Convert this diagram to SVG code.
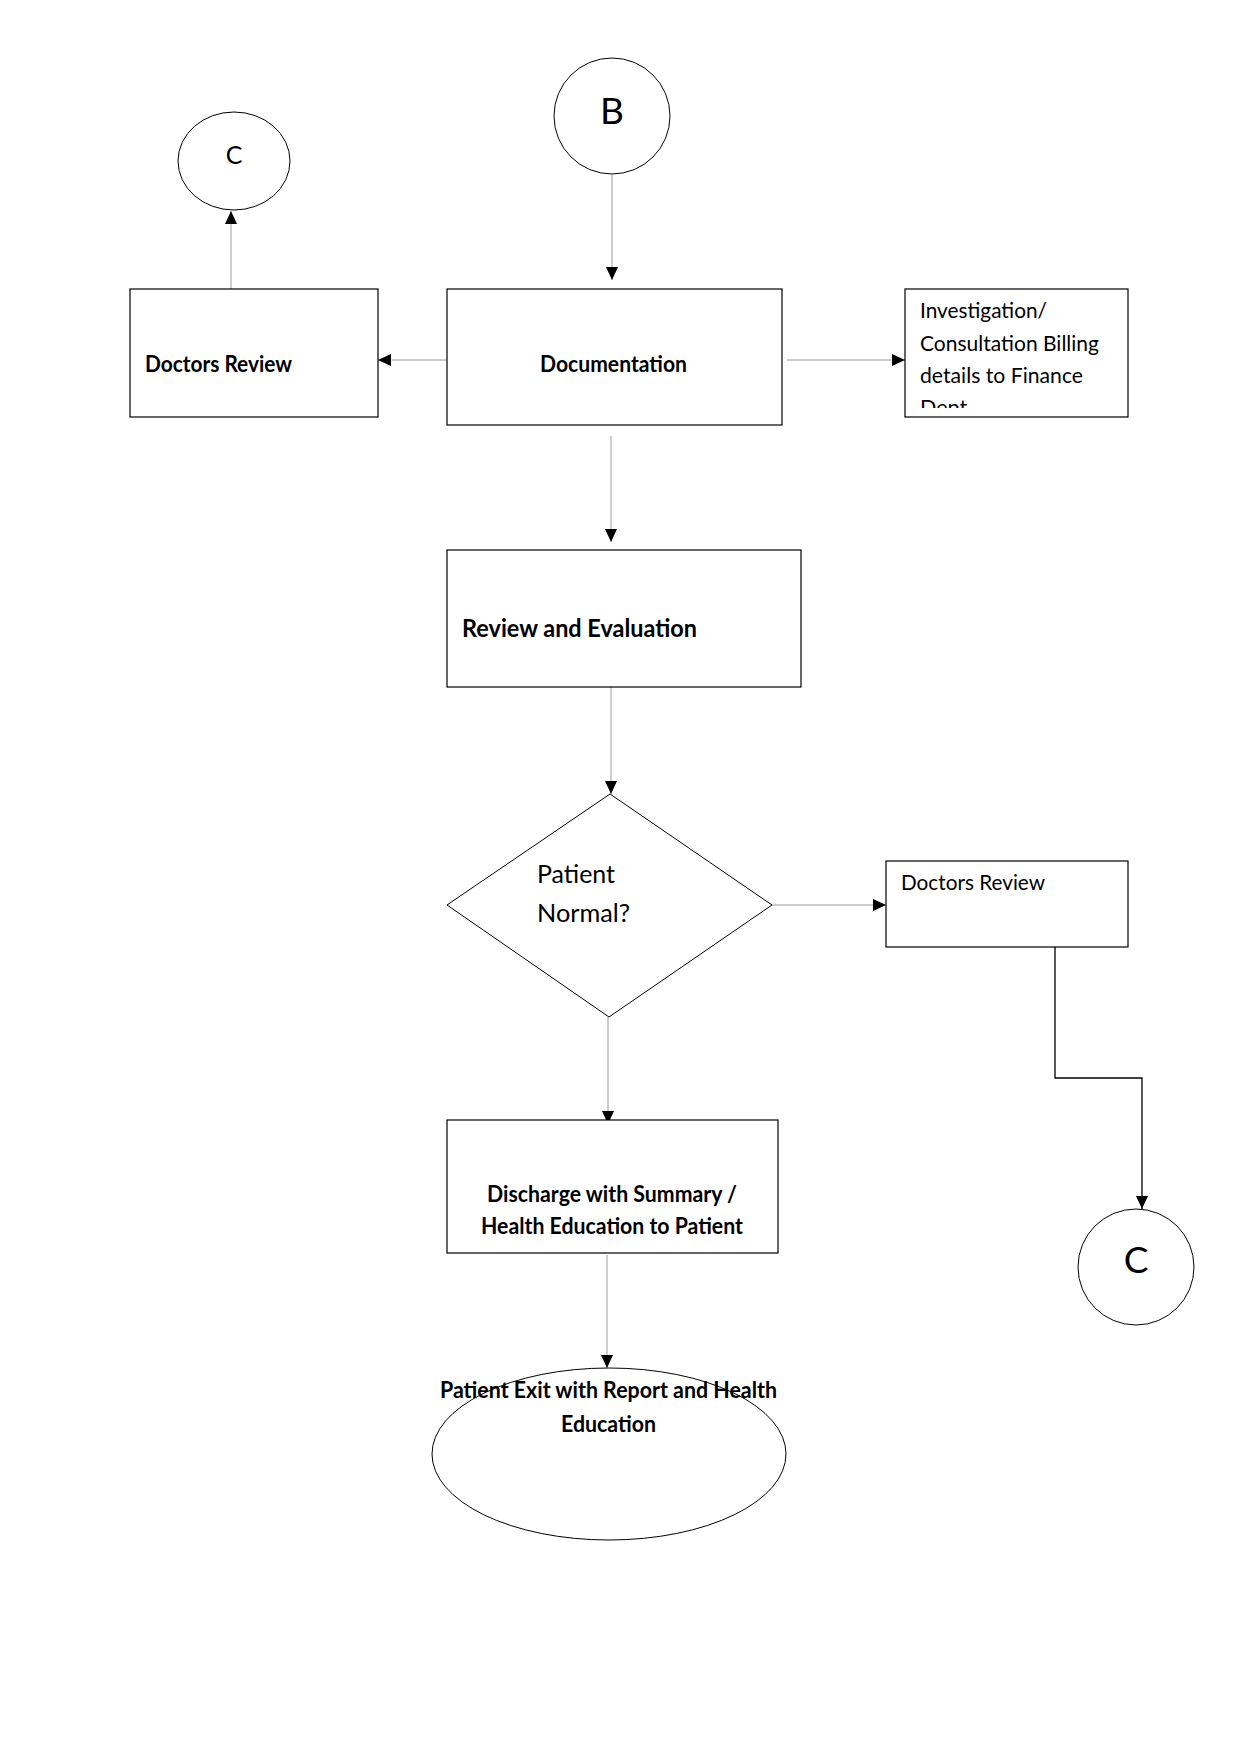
<svg xmlns="http://www.w3.org/2000/svg" width="1241" height="1754" viewBox="0 0 1241 1754">
<style>
.bg{fill:#fff}
.box{fill:#fff;stroke:#000;stroke-width:1.2}
.shape{fill:#fff;stroke:#000;stroke-width:1}
.t{font-family:Lato,"Liberation Sans",sans-serif;fill:#000}
.b{font-weight:bold;font-size:22px}
.r{font-size:21.5px}
.conn{fill:none;stroke:#9a9a9a;stroke-width:1}
.connk{fill:none;stroke:#000;stroke-width:1.3}
</style>
<defs>
<marker id="arr" markerUnits="userSpaceOnUse" markerWidth="14" markerHeight="12" refX="13" refY="6" orient="auto">
<path d="M0,0 L13,6 L0,12 z" fill="#000"/>
</marker>
<clipPath id="invclip"><rect x="905" y="289" width="223" height="119"/></clipPath>
</defs>
<rect class="bg" x="0" y="0" width="1241" height="1754"/>
<g id="connectors">
<path class="conn" d="M612,175 V280" marker-end="url(#arr)"/>
<path class="conn" d="M455,360 H378" marker-end="url(#arr)"/>
<path class="conn" d="M231,289 V211" marker-end="url(#arr)"/>
<path class="conn" d="M787,360 H905" marker-end="url(#arr)"/>
<path class="conn" d="M611,436 V542" marker-end="url(#arr)"/>
<path class="conn" d="M611,687 V794" marker-end="url(#arr)"/>
<path class="conn" d="M772,905 H886" marker-end="url(#arr)"/>
<path class="conn" d="M608,1017 V1124" marker-end="url(#arr)"/>
<path class="connk" d="M1055,947 V1078 H1142 V1209" marker-end="url(#arr)"/>
<path class="conn" d="M607,1255 V1368" marker-end="url(#arr)"/>
</g>
<g id="nodeB">
<circle class="shape" cx="612" cy="116" r="58"/>
<text class="t" x="612" y="124" font-size="37" text-anchor="middle">B</text>
</g>
<g id="nodeC1">
<ellipse class="shape" cx="234" cy="161" rx="56" ry="49"/>
<text class="t" x="234" y="164" font-size="25" text-anchor="middle">C</text>
</g>
<g id="doctorsReview1">
<rect class="box" x="130" y="289" width="248" height="128"/>
<text class="t b" x="145" y="372" textLength="147" lengthAdjust="spacingAndGlyphs">Doctors Review</text>
</g>
<g id="documentation">
<rect class="box" x="447" y="289" width="335" height="136"/>
<text class="t b" x="540" y="372" textLength="147" lengthAdjust="spacingAndGlyphs">Documentation</text>
</g>
<g id="investigation">
<rect class="box" x="905" y="289" width="223" height="128"/>
<g clip-path="url(#invclip)">
<text class="t r" x="920" y="318" textLength="127" lengthAdjust="spacingAndGlyphs">Investigation/</text>
<text class="t r" x="920" y="351" textLength="179" lengthAdjust="spacingAndGlyphs">Consultation Billing</text>
<text class="t r" x="920" y="383" textLength="163" lengthAdjust="spacingAndGlyphs">details to Finance</text>
<text class="t r" x="920" y="415">Dept</text>
</g>
</g>
<g id="reviewEvaluation">
<rect class="box" x="447" y="550" width="354" height="137"/>
<text class="t" x="462" y="637" font-size="24" font-weight="bold" textLength="235" lengthAdjust="spacingAndGlyphs">Review and Evaluation</text>
</g>
<g id="patientNormal">
<polygon class="shape" points="610,794 772,905 609,1017 447,905"/>
<text class="t" x="537" y="883" font-size="24.5" textLength="78" lengthAdjust="spacingAndGlyphs">Patient</text>
<text class="t" x="537" y="922" font-size="24.5" textLength="93" lengthAdjust="spacingAndGlyphs">Normal?</text>
</g>
<g id="doctorsReview2">
<rect class="box" x="886" y="861" width="242" height="86"/>
<text class="t r" x="901" y="890" textLength="144" lengthAdjust="spacingAndGlyphs">Doctors Review</text>
</g>
<g id="nodeC2">
<circle class="shape" cx="1136" cy="1267" r="58"/>
<text class="t" x="1136" y="1273" font-size="37" text-anchor="middle">C</text>
</g>
<g id="discharge">
<rect class="box" x="447" y="1120" width="331" height="133"/>
<text class="t b" x="487" y="1202" textLength="250" lengthAdjust="spacingAndGlyphs">Discharge with Summary /</text>
<text class="t b" x="481" y="1234" textLength="262" lengthAdjust="spacingAndGlyphs">Health Education to Patient</text>
</g>
<g id="patientExit">
<ellipse class="shape" cx="609" cy="1454" rx="177" ry="86"/>
<text class="t b" x="440" y="1398" textLength="337" lengthAdjust="spacingAndGlyphs">Patient Exit with Report and Health</text>
<text class="t b" x="561" y="1432" textLength="95" lengthAdjust="spacingAndGlyphs">Education</text>
</g>
</svg>
